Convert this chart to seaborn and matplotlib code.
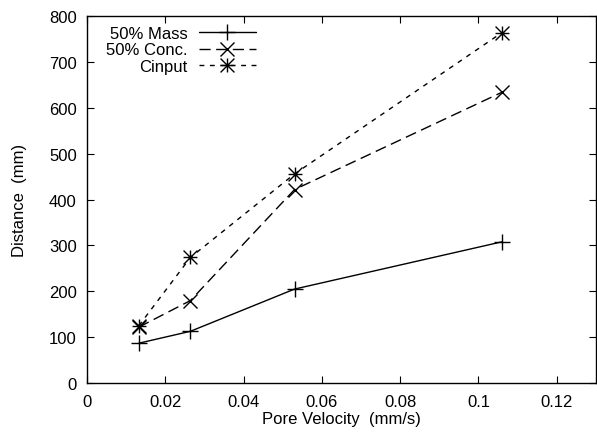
import matplotlib
matplotlib.use('Agg')
import matplotlib.pyplot as plt
import seaborn as sns
import pandas as pd
import numpy as np
from matplotlib.path import Path

# ---------------------------------------------------------------------------
# Data
# ---------------------------------------------------------------------------

pore_velocity = [0.0132, 0.0264, 0.053, 0.106]
mass_50       = [87, 113, 205, 308]
conc_50       = [122, 180, 422, 634]
cinput        = [125, 274, 456, 764]

series_names  = ["50% Mass", "50% Conc.", "Cinput"]
x_ticks       = [0, 0.02, 0.04, 0.06, 0.08, 0.1, 0.12]
x_ticklabels  = ["0", "0.02", "0.04", "0.06", "0.08", "0.1", "0.12"]
y_ticks       = [0, 100, 200, 300, 400, 500, 600, 700, 800]

# ---------------------------------------------------------------------------
# Style
# ---------------------------------------------------------------------------

sns.set_style("ticks")
plt.rcParams["font.family"] = ["Liberation Sans", "DejaVu Sans"]
plt.rcParams["font.size"] = 12
plt.rcParams["xtick.direction"] = "in"
plt.rcParams["ytick.direction"] = "in"
plt.rcParams["text.color"] = "black"
plt.rcParams["axes.labelcolor"] = "black"
plt.rcParams["xtick.color"] = "black"
plt.rcParams["ytick.color"] = "black"

# gnuplot-style asterisk: plus overlaid with a cross
star = Path(
    [(-1, 0), (1, 0), (0, -1), (0, 1),
     (-1, -1), (1, 1), (-1, 1), (1, -1)],
    [Path.MOVETO, Path.LINETO] * 4,
)

df = pd.DataFrame({
    "velocity": pore_velocity,
    series_names[0]: mass_50,
    series_names[1]: conc_50,
    series_names[2]: cinput,
})

styles = {
    series_names[0]: dict(marker="+", markersize=11, linestyle="-"),
    series_names[1]: dict(marker="x", markersize=10, linestyle=(0, (8, 4))),
    series_names[2]: dict(marker=star, markersize=10, linestyle=(0, (3.5, 4))),
}

fig, ax = plt.subplots(figsize=(5.97, 4.39), dpi=100)
fig.subplots_adjust(left=0.146, right=0.998, bottom=0.125, top=0.961)

for name in series_names:
    sns.lineplot(
        data=df, x="velocity", y=name, ax=ax,
        color="black", linewidth=1.0,
        markeredgecolor="black", markeredgewidth=1.0,
        label=name, **styles[name],
    )

ax.set_xlim(0, 0.13)
ax.set_ylim(0, 800)
ax.set_xticks(x_ticks)
ax.set_xticklabels(x_ticklabels)
ax.set_yticks(y_ticks)
ax.set_xlabel("Pore Velocity  (mm/s)", labelpad=2)
ax.set_ylabel("Distance  (mm)", labelpad=16)
ax.tick_params(top=True, right=True, length=5, width=0.8, pad=7.5)
for sp in ax.spines.values():
    sp.set_linewidth(1.0)
    sp.set_color("black")

leg = ax.legend(
    loc="upper left", markerfirst=False, frameon=False,
    handlelength=3.4, handletextpad=0.7, labelspacing=0.08,
    borderaxespad=0.2, bbox_to_anchor=(0.017, 1.0),
)

fig.savefig("out.png", dpi=100)
plt.close()
